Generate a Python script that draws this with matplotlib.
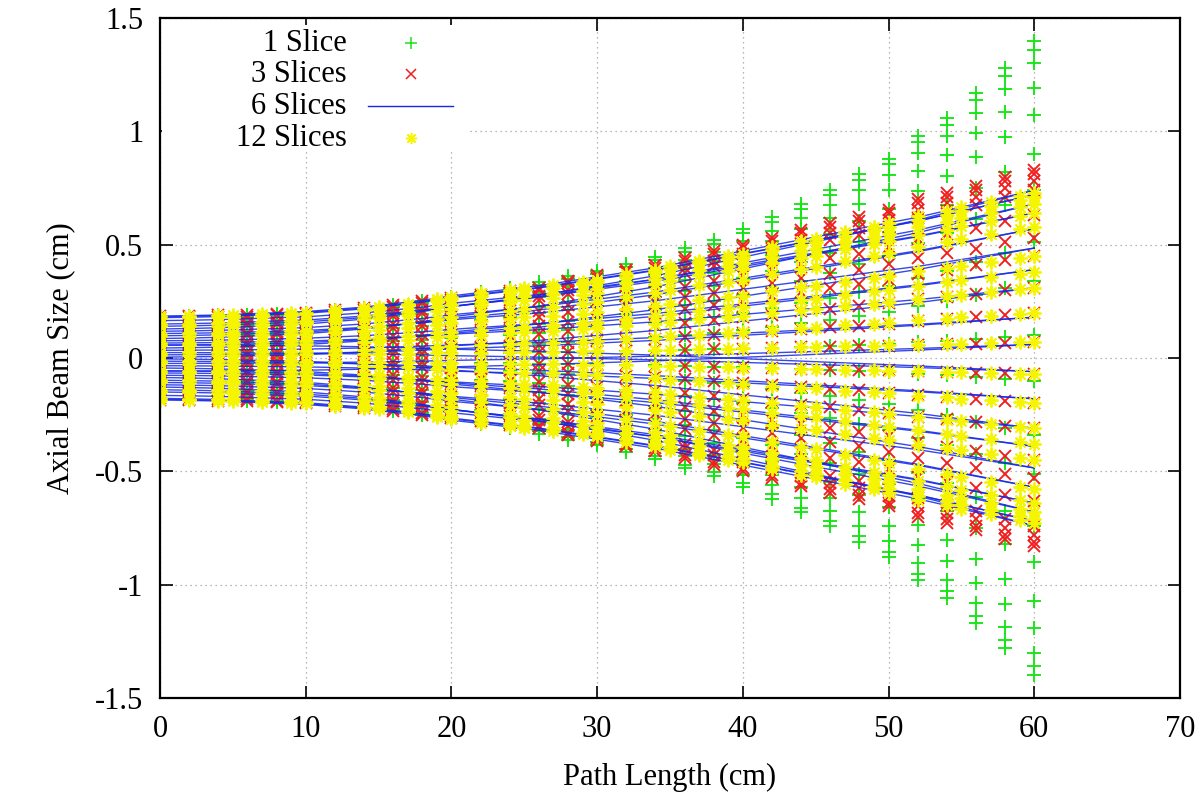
import numpy as np
import matplotlib
matplotlib.use("Agg")
import matplotlib.pyplot as plt
from matplotlib.patches import Rectangle

# ---------------- data ----------------
# sample positions along the path (cm)
x_even = [0, 2, 4, 6, 8, 10, 12, 14, 16, 18, 20, 22, 24, 26, 28, 30,
          32, 34, 36, 38, 40, 42, 44, 46, 48, 50, 52, 54, 56, 58, 60]
x_twelve = [0, 2, 4, 5, 7, 9, 10, 12, 14, 15, 17, 19, 20, 22, 24, 25, 27, 29,
            30, 32, 34, 35, 37, 39, 40, 42, 44, 45, 47, 49, 50, 52, 54, 55,
            57, 59, 60]

# outermost ray (beam edge) of each run at its sample positions
edge_1slice = [0.185, 0.186, 0.188, 0.19, 0.195, 0.20, 0.21, 0.22, 0.235, 0.25,
               0.27, 0.29, 0.31, 0.335, 0.36, 0.385, 0.415, 0.445, 0.485, 0.52,
               0.57, 0.62, 0.68, 0.74, 0.81, 0.88, 0.98, 1.06, 1.17, 1.28, 1.40]
edge_3slices = [0.185, 0.186, 0.188, 0.19, 0.195, 0.20, 0.21, 0.22, 0.235, 0.25,
                0.265, 0.28, 0.295, 0.31, 0.34, 0.365, 0.39, 0.41, 0.44, 0.47,
                0.50, 0.53, 0.565, 0.595, 0.62, 0.655, 0.70, 0.73, 0.76, 0.80, 0.83]
edge_6slices = [0.18, 0.182, 0.185, 0.19, 0.195, 0.20, 0.21, 0.22, 0.235, 0.25,
                0.27, 0.285, 0.30, 0.315, 0.335, 0.355, 0.375, 0.395, 0.42, 0.445,
                0.47, 0.495, 0.52, 0.545, 0.57, 0.595, 0.62, 0.65, 0.68, 0.71, 0.74]
edge_12slices = [0.185, 0.186, 0.188, 0.19, 0.192, 0.197, 0.20, 0.21, 0.22, 0.225,
                 0.24, 0.26, 0.27, 0.285, 0.30, 0.31, 0.32, 0.335, 0.345, 0.37,
                 0.39, 0.405, 0.43, 0.45, 0.46, 0.49, 0.515, 0.525, 0.555, 0.58,
                 0.595, 0.625, 0.65, 0.665, 0.69, 0.715, 0.73]

# ray positions at entrance (x = 0), upper half of the beam (cm)
ray_start = [0.185, 0.178, 0.150, 0.140, 0.108, 0.098, 0.066, 0.056, 0.024, 0.014]
# ray positions at exit (x = 60) for each run, same ray order
ray_end_1slice = [1.40, 1.36, 1.30, 1.19, 1.07, 0.90, 0.74, 0.51, 0.34, 0.10]
ray_end_3slices = [0.83, 0.81, 0.78, 0.74, 0.63, 0.53, 0.45, 0.31, 0.20, 0.07]
ray_end_6slices = [0.74, 0.72, 0.64, 0.68, 0.485, 0.57, 0.31, 0.39, -0.06, 0.18]
ray_end_12slices = [0.73, 0.71, 0.68, 0.64, 0.58, 0.45, 0.38, 0.31, 0.20, 0.07]
# second group of 6-slice line traces (crossing traces)
ray_start_6b = [0.182, 0.165, 0.128, 0.118, 0.086, 0.076, 0.044, 0.034, 0.058, 0.004]
ray_end_6b = [0.72, 0.64, 0.74, 0.57, 0.68, 0.39, 0.485, 0.18, -0.06, 0.31]

labels = ["1 Slice", "3 Slices", "6 Slices", "12 Slices"]
colors = ["#14e614", "#f01e1e", "#1428e6", "#f5f500"]


def rays(edge, end, start=ray_start):
    edge = np.asarray(edge, float)
    frac = (edge - edge[0]) / (edge[-1] - edge[0])
    s = np.asarray(start, float)[:, None]
    e = np.asarray(end, float)[:, None]
    upper = s + frac[None, :] * (e - s)
    return np.vstack([upper, -upper])


# ---------------- figure ----------------
plt.rcParams["font.family"] = ["Liberation Serif", "DejaVu Serif"]
fig = plt.figure(figsize=(12.03, 7.97), dpi=100)
ax = fig.add_axes([0.1330, 0.1242, 0.8479, 0.8532])

fs = 22
mew = 1.35

Y1 = rays(edge_1slice, ray_end_1slice)
Y3 = rays(edge_3slices, ray_end_3slices)
Y6 = np.vstack([rays(edge_6slices, ray_end_6slices),
                rays(edge_6slices, ray_end_6b, ray_start_6b)])
Y12 = rays(edge_12slices, ray_end_12slices)

for row in Y1:
    ax.plot(x_even, row, ls="none", marker="+", ms=10, mew=mew,
            color=colors[0], zorder=2)
for row in Y3:
    ax.plot(x_even, row, ls="none", marker="x", ms=8, mew=mew,
            color=colors[1], zorder=3)
for row in Y6:
    ax.plot(x_even, row, ls="-", lw=1.0, color=colors[2], alpha=0.85, zorder=4)
for row in Y12:
    ax.plot(x_twelve, row, ls="none", marker=(8, 2, 0), ms=10, mew=mew,
            color=colors[3], zorder=5)

ax.set_xlim(0, 70)
ax.set_ylim(-1.5, 1.5)
ax.set_xticks(range(0, 71, 10))
ax.set_yticks([-1.5, -1, -0.5, 0, 0.5, 1, 1.5])
ax.set_yticklabels(["-1.5", "-1", "-0.5", "0", "0.5", "1", "1.5"])
ax.tick_params(direction="in", length=9, width=1.2, top=True, right=True,
               labelsize=fs)
ax.tick_params(axis="x", pad=12)
ax.tick_params(axis="y", pad=12)
ax.grid(True, color="#a0a0a0", linestyle=(0, (1, 3)), linewidth=0.9, zorder=0)
ax.set_axisbelow(True)
for sp in ax.spines.values():
    sp.set_linewidth(1.6)
    sp.set_zorder(10)

ax.set_xlabel("Path Length (cm)", fontsize=fs, labelpad=14)
ax.set_ylabel("Axial Beam Size (cm)", fontsize=fs, labelpad=14)

# ---------------- key (gnuplot style, no frame) ----------------
ax.add_patch(Rectangle((0.0015, 0.803), 0.302, 0.187, transform=ax.transAxes,
                       facecolor="white", edgecolor="none", zorder=6))
rows_y = [0.963, 0.917, 0.870, 0.823]
for i, (lab, c) in enumerate(zip(labels, colors)):
    ax.text(0.1833, rows_y[i], lab, transform=ax.transAxes, ha="right",
            va="center", fontsize=fs, zorder=7)
ax.plot([0.246], [rows_y[0]], transform=ax.transAxes, marker="+", ms=8,
        mew=1.1, color=colors[0], zorder=7, clip_on=False)
ax.plot([0.246], [rows_y[1]], transform=ax.transAxes, marker="x", ms=7,
        mew=1.1, color=colors[1], zorder=7, clip_on=False)
ax.plot([0.204, 0.287], [rows_y[2]] * 2, transform=ax.transAxes, lw=1.0,
        color=colors[2], zorder=7)
ax.plot([0.246], [rows_y[3]], transform=ax.transAxes, marker=(8, 2, 0),
        ms=8, mew=1.1, color=colors[3], zorder=7, clip_on=False)

fig.savefig("out.png", dpi=100)
